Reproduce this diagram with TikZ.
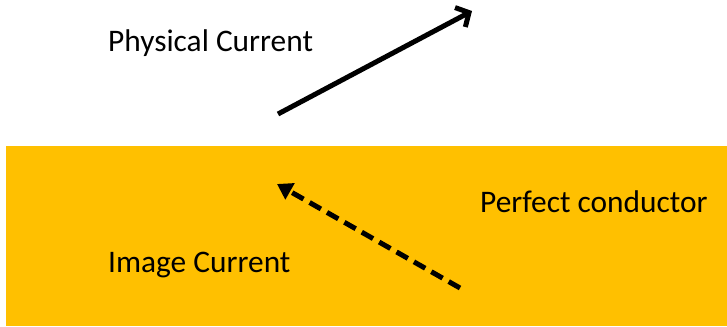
\documentclass[tikz,border=0pt]{standalone}
\usepackage{fontspec}
\setmainfont{Carlito}
\usetikzlibrary{arrows.meta}
\definecolor{gold}{HTML}{FFC000}
\begin{document}
\begin{tikzpicture}[x=1bp,y=-1bp,
  lbl/.style={anchor=west,inner sep=0pt,font=\fontsize{31.5}{36}\selectfont},
  phys/.style={line width=5bp,-{Straight Barb[length=10bp,width=22bp,line width=5bp]}},
  img/.style={line width=5bp,dash pattern=on 13bp off 7bp,-{Triangle[length=15bp,width=18bp]}}]
\useasboundingbox (0,0) rectangle (727,326);
\fill[gold] (6,146) rectangle (727,326);
\node[lbl] (pc) at (108,43) {Physical Current};
\node[lbl] (ic) at (108,265) {Image Current};
\node[lbl] (cond) at (480,202) {Perfect conductor};
\coordinate (p1) at (278,114);
\coordinate (p2) at (472,11);
\draw[phys] (p1) -- (p2);
\coordinate (i1) at (460,288);
\coordinate (i2) at (277,184);
\draw[img] (i1) -- (i2);
\end{tikzpicture}
\end{document}
